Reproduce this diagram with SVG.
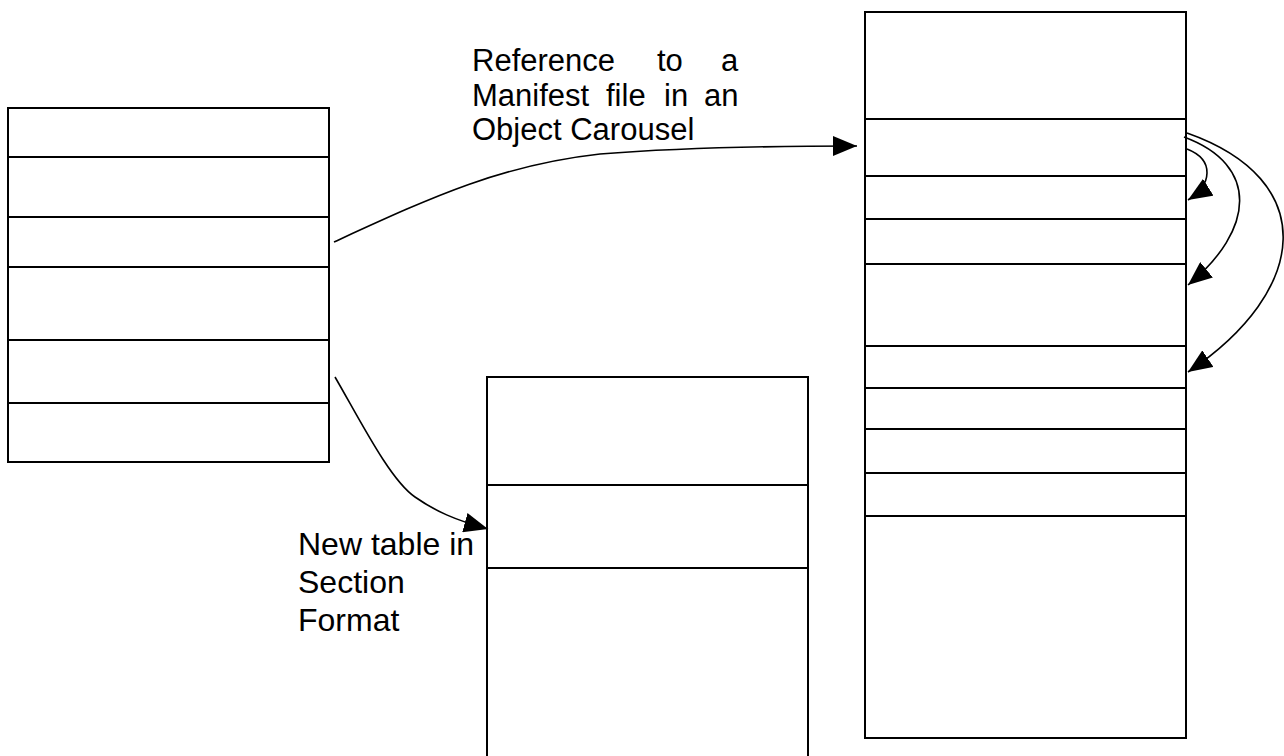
<svg xmlns="http://www.w3.org/2000/svg" width="1284" height="756" viewBox="0 0 1284 756">
  <defs>
    <marker id="arrow" viewBox="0 0 24 20" refX="24" refY="10" markerWidth="24" markerHeight="20" markerUnits="userSpaceOnUse" orient="auto">
      <path d="M0,0 L24,10 L0,20 z" fill="#000"/>
    </marker>
    <style>
      .box { fill: #fff; stroke: #000; stroke-width: 2; }
      .row { stroke: #000; stroke-width: 2; fill: none; }
      .conn { fill: none; stroke: #000; stroke-width: 1.6; marker-end: url(#arrow); }
      .lbl { font-family: "Liberation Sans", Arial, sans-serif; font-size: 31px; fill: #000; }
      .lbl2 { font-family: "Liberation Sans", Arial, sans-serif; font-size: 32px; fill: #000; }
    </style>
  </defs>
  <rect width="1284" height="756" fill="#fff"/>

  <g id="left-table">
    <rect class="box" x="8" y="108" width="321" height="354"/>
    <line class="row" x1="8" y1="157" x2="329" y2="157"/>
    <line class="row" x1="8" y1="217" x2="329" y2="217"/>
    <line class="row" x1="8" y1="267" x2="329" y2="267"/>
    <line class="row" x1="8" y1="340" x2="329" y2="340"/>
    <line class="row" x1="8" y1="403" x2="329" y2="403"/>
  </g>

  <g id="middle-table">
    <rect class="box" x="487" y="377" width="321" height="390"/>
    <line class="row" x1="487" y1="485" x2="808" y2="485"/>
    <line class="row" x1="487" y1="568" x2="808" y2="568"/>
  </g>

  <g id="right-table">
    <rect class="box" x="865" y="12" width="321" height="726"/>
    <line class="row" x1="865" y1="119" x2="1186" y2="119"/>
    <line class="row" x1="865" y1="176" x2="1186" y2="176"/>
    <line class="row" x1="865" y1="219" x2="1186" y2="219"/>
    <line class="row" x1="865" y1="264" x2="1186" y2="264"/>
    <line class="row" x1="865" y1="346" x2="1186" y2="346"/>
    <line class="row" x1="865" y1="388" x2="1186" y2="388"/>
    <line class="row" x1="865" y1="429" x2="1186" y2="429"/>
    <line class="row" x1="865" y1="473" x2="1186" y2="473"/>
    <line class="row" x1="865" y1="516" x2="1186" y2="516"/>
  </g>

  <g id="connectors">
    <path class="conn" d="M334,242 C430,198 500,165 600,154 C690,147 770,146 857,146"/>
    <path class="conn" d="M335,377 C360,420 390,480 415,497 C435,511 455,520 488,529"/>
    <path class="conn" d="M1187,149 C1215,160 1212,185 1188,200"/>
    <path class="conn" d="M1184,137 C1260,165 1255,230 1188,285"/>
    <path class="conn" d="M1187,133 C1320,180 1310,290 1188,372"/>
  </g>

  <g id="label-manifest">
    <text class="lbl" y="71"><tspan x="472">Reference</tspan><tspan x="657">to</tspan><tspan x="721">a</tspan></text>
    <text class="lbl" y="106"><tspan x="472">Manifest</tspan><tspan x="606">file</tspan><tspan x="664">in</tspan><tspan x="704">an</tspan></text>
    <text class="lbl" x="472" y="140">Object Carousel</text>
  </g>

  <g id="label-section">
    <text class="lbl2" x="298" y="555">New table in</text>
    <text class="lbl2" x="298" y="593">Section</text>
    <text class="lbl2" x="298" y="631">Format</text>
  </g>
</svg>
